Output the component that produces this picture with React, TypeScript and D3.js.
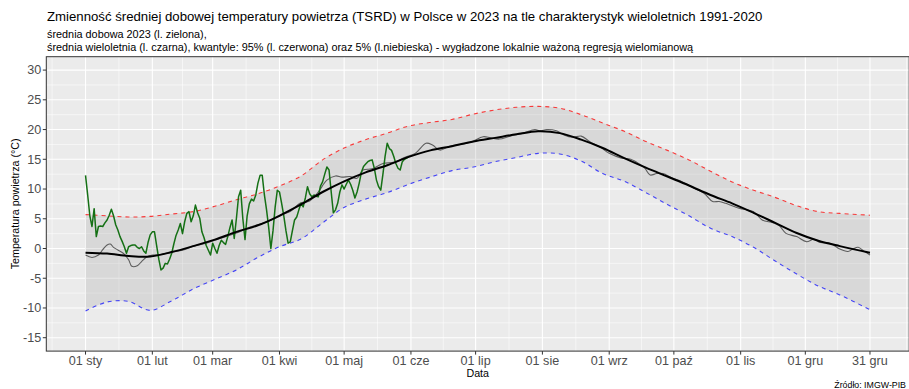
import React from "react";
import * as d3 from "d3";

const W = 909;
const H = 389;

// x axis: day of year 2023 (0 = 1 Jan)
const monthTicks = [0, 31, 59, 90, 120, 151, 181, 212, 243, 273, 304, 334, 364];
const monthLabels = ["01 sty", "01 lut", "01 mar", "01 kwi", "01 maj", "01 cze", "01 lip", "01 sie", "01 wrz", "01 paź", "01 lis", "01 gru", "31 gru"];
const yTicks = [-15, -10, -5, 0, 5, 10, 15, 20, 25, 30];

// smoothed climatology 1991-2020 (10-day grid)
const climDays = [0, 10, 20, 30, 40, 50, 60, 70, 80, 90, 100, 110, 120, 130, 140, 150, 160, 170, 180, 190, 200, 210, 220, 230, 240, 250, 260, 270, 280, 290, 300, 310, 320, 330, 340, 350, 364];
const q95 = [5.7, 5.5, 5.3, 5.4, 5.8, 6.2, 7.1, 8.2, 9.2, 10.5, 12.2, 14.9, 16.9, 18.3, 19.4, 20.6, 21.2, 21.7, 22.6, 23.3, 23.75, 23.9, 23.6, 22.5, 21.1, 19.7, 18.0, 16.5, 14.9, 13.0, 11.2, 9.8, 8.6, 7.2, 6.2, 5.9, 5.6];
const q05 = [-10.5, -9.0, -8.9, -10.4, -8.8, -6.8, -5.2, -3.6, -1.5, 0.3, 1.6, 4.3, 6.9, 8.3, 9.4, 10.8, 12.0, 13.1, 13.7, 14.6, 15.3, 16.0, 15.9, 14.7, 12.6, 11.3, 9.4, 7.4, 5.5, 3.4, 2.0, 0.2, -2.1, -4.3, -6.3, -7.8, -10.3];
const meanSmooth = [-0.7, -0.85, -1.25, -1.35, -0.6, 0.4, 1.5, 2.8, 3.9, 5.5, 7.4, 9.5, 11.3, 12.8, 14.0, 15.4, 16.5, 17.2, 18.0, 18.6, 19.2, 19.7, 19.4, 18.3, 16.9, 15.2, 13.6, 12.1, 10.6, 9.0, 7.6, 6.0, 4.3, 2.6, 1.3, 0.4, -0.7];

// multi-year daily mean (thin grey line)
const meanDays = [0, 3, 6, 8, 10, 11.5, 13, 15, 17.5, 20, 21.5, 24, 26, 28.5, 31, 35, 40, 45, 50, 55, 60, 65, 70, 75, 80, 85, 90, 95, 99.5, 104, 108, 112, 116, 119, 122.7, 126, 128.8, 133, 138, 143, 148, 153, 158, 161, 164.4, 169, 174, 179, 184.5, 188, 192, 197, 203, 208.5, 211, 214, 218.5, 222, 226, 230, 234, 239, 243, 248.7, 253, 257, 259.5, 262, 265, 268, 272, 277, 282, 287, 291, 294, 297, 300, 303.6, 307, 310, 314, 319, 322, 325, 330, 334.5, 338, 341, 344.5, 347, 350, 353.8, 356, 358.5, 361, 364];
const meanDaily = [-1.1, -1.5, -1.1, -0.2, 0.6, 0.75, 0.2, -0.25, -0.8, -1.9, -3.0, -2.9, -2.2, -1.4, -1.1, -1.0, -0.6, -0.3, 0.4, 0.8, 1.4, 2.0, 2.6, 3.4, 4.0, 4.6, 5.6, 6.2, 7.6, 8.0, 9.5, 11.5, 12.2, 12.0, 12.1, 11.8, 13.2, 13.4, 14.3, 14.5, 15.3, 16.0, 17.7, 17.4, 16.55, 17.2, 17.5, 17.9, 18.8, 18.6, 18.4, 18.9, 19.4, 20.0, 19.8, 20.0, 19.8, 19.1, 18.7, 18.9, 17.95, 17.0, 16.0, 15.2, 15.0, 14.2, 13.5, 12.35, 12.6, 12.6, 11.9, 11.2, 10.2, 9.3, 7.9, 7.9, 7.6, 7.2, 6.75, 6.5, 6.2, 4.8, 4.35, 3.8, 2.55, 2.0, 1.15, 1.55, 1.0, 1.0, 0.6, -0.1, -0.5, -0.1, 0.2, -0.4, -1.1];

// 2023 daily mean temperature, 1 Jan - 31 May
const t2023 = [
  12.3, 9.0, 5.5, 3.7, 6.7, 2.0, 3.7, 3.8, 3.7, 4.3,
  4.8, 5.6, 6.6, 5.5, 4.0, 3.1, 2.0, 1.2, 0.3, -0.8,
  0.3, 0.5, 0.6, 0.6, 0.2, 0.0, 0.3, -0.4, -0.8, 1.0,
  2.3, 2.8, 2.8, 0.5, -1.8, -3.6, -3.3, -2.5, -2.6, -1.8,
  -0.8, 0.8, 2.2, 3.1, 4.2, 2.5, 4.5, 5.9, 6.2, 4.5,
  5.5, 7.3, 6.0, 5.1, 2.8, 1.8, 0.5, -0.3, -1.1, 0.9,
  0.0, -0.8, 0.5, 1.4, 1.0, 0.7, 2.0, 3.5, 4.8, 1.7,
  5.0, 8.7, 9.8, 5.0, 1.5, 5.5, 7.5, 8.3, 8.0, 9.0,
  11.0, 12.3, 12.3, 9.0, 6.5, 3.5, 0.0, 3.0, 7.0, 9.8,
  9.5, 7.6, 5.5, 3.0, 0.9, 1.1, 3.0, 4.8, 5.3, 6.5,
  7.6, 7.0, 8.5, 10.4, 9.2, 8.7, 9.0, 8.8, 8.7, 10.5,
  11.2, 12.5, 13.7, 13.2, 9.5, 6.0, 6.5, 7.6, 9.5, 10.7,
  10.0, 10.8, 11.5, 10.8, 9.8, 8.5, 9.5, 11.0, 12.8, 13.8,
  14.2, 14.6, 14.8, 14.9, 13.5, 11.5, 10.4, 9.8, 12.5, 15.5,
  17.7, 16.8, 16.5, 15.5, 14.3, 13.5, 13.2, 14.6, 15.0, 15.2,
  15.4
];

const FONT = "'Liberation Sans', Arial, Helvetica, sans-serif";

export default function App() {
  const x = d3.scaleLinear().domain([-18.2, 382.2]).range([46.3, 909.2]);
  const y = d3.scaleLinear().domain([-17.25, 32.25]).range([351.1, 56.7]);

  const left = x(-18.2);
  const right = x(382.2);
  const top = y(32.25);
  const bottom = y(-17.25);

  const curve = d3.curveCatmullRom.alpha(0.5);
  const lineXY = d3
    .line<[number, number]>()
    .x((d) => x(d[0]))
    .y((d) => y(d[1]))
    .curve(curve);

  const redPts: [number, number][] = climDays.map((d, i) => [d, q95[i]]);
  const bluePts: [number, number][] = climDays.map((d, i) => [d, q05[i]]);
  const smoothPts: [number, number][] = climDays.map((d, i) => [d, meanSmooth[i]]);
  const dailyPts: [number, number][] = meanDays.map((d, i) => [d, meanDaily[i]]);
  const greenPts: [number, number][] = t2023.map((v, i) => [i, v]);

  const area = d3
    .area<[number, number, number]>()
    .x((d) => x(d[0]))
    .y0((d) => y(d[1]))
    .y1((d) => y(d[2]))
    .curve(curve);
  const ribbon = area(climDays.map((d, i) => [d, q05[i], q95[i]]));

  const greenLine = d3
    .line<[number, number]>()
    .x((d) => x(d[0]))
    .y((d) => y(d[1]))
    .curve(d3.curveLinear);

  const minorY = d3.range(-12.5, 30, 5);
  const minorX: number[] = [];
  minorX.push(-15.5);
  for (let i = 0; i < monthTicks.length - 1; i++) minorX.push((monthTicks[i] + monthTicks[i + 1]) / 2);
  minorX.push(381);

  return (
    <svg
      width={W}
      height={H}
      style={{ position: "absolute", left: 0, top: 0, background: "#fff" }}
      fontFamily={FONT}
    >
      <rect x={0} y={0} width={W} height={H} fill="#fff" />
      {/* titles */}
      <text x={47} y={21} fontSize={13.2} fill="#000">
        Zmienność średniej dobowej temperatury powietrza (TSRD) w Polsce w 2023 na tle charakterystyk wieloletnich 1991-2020
      </text>
      <text x={47} y={38} fontSize={10.85} fill="#000">
        średnia dobowa 2023 (l. zielona),
      </text>
      <text x={47} y={50.5} fontSize={10.85} fill="#000">
        średnia wieloletnia (l. czarna), kwantyle: 95% (l. czerwona) oraz 5% (l.niebieska) - wygładzone lokalnie ważoną regresją wielomianową
      </text>

      {/* panel */}
      <rect x={left} y={top} width={right - left} height={bottom - top} fill="#ebebeb" />
      <g>
        {minorY.map((v) => (
          <line key={"my" + v} x1={left} x2={right} y1={y(v)} y2={y(v)} stroke="#fff" strokeWidth={0.55} />
        ))}
        {minorX.map((d) => (
          <line key={"mx" + d} x1={x(d)} x2={x(d)} y1={top} y2={bottom} stroke="#fff" strokeWidth={0.55} />
        ))}
        {yTicks.map((v) => (
          <line key={"gy" + v} x1={left} x2={right} y1={y(v)} y2={y(v)} stroke="#fff" strokeWidth={1.1} />
        ))}
        {monthTicks.map((d) => (
          <line key={"gx" + d} x1={x(d)} x2={x(d)} y1={top} y2={bottom} stroke="#fff" strokeWidth={1.1} />
        ))}
      </g>

      {/* ribbon */}
      <path d={ribbon || ""} fill="#8c8c8c" fillOpacity={0.2} stroke="none" />

      {/* quantiles */}
      <path d={lineXY(redPts) || ""} fill="none" stroke="#ff0000" strokeOpacity={0.75} strokeWidth={1.1} strokeDasharray="4,4" />
      <path d={lineXY(bluePts) || ""} fill="none" stroke="#0000ff" strokeOpacity={0.7} strokeWidth={1.1} strokeDasharray="4,4" />

      {/* multi-year daily mean */}
      <path d={lineXY(dailyPts) || ""} fill="none" stroke="#333" strokeOpacity={0.75} strokeWidth={1.1} />
      {/* 2023 */}
      <path d={greenLine(greenPts) || ""} fill="none" stroke="#157015" strokeWidth={1.5} strokeLinejoin="round" />
      {/* smoothed mean */}
      <path d={lineXY(smoothPts) || ""} fill="none" stroke="#000" strokeWidth={2} />

      {/* panel border */}
      <rect x={left} y={top} width={right - left} height={bottom - top} fill="none" stroke="#333" strokeWidth={1} />

      {/* y axis */}
      {yTicks.map((v) => (
        <g key={"ty" + v}>
          <line x1={left - 3.5} x2={left} y1={y(v)} y2={y(v)} stroke="#333" strokeWidth={1} />
          <text x={left - 5} y={y(v)} dy="0.35em" textAnchor="end" fontSize={12.6} fill="#4d4d4d">
            {v}
          </text>
        </g>
      ))}
      {/* x axis */}
      {monthTicks.map((d, i) => (
        <g key={"tx" + d}>
          <line x1={x(d)} x2={x(d)} y1={bottom} y2={bottom + 3.5} stroke="#333" strokeWidth={1} />
          <text x={x(d)} y={bottom + 14} textAnchor="middle" fontSize={12.6} fill="#4d4d4d">
            {monthLabels[i]}
          </text>
        </g>
      ))}

      <text x={(left + right) / 2} y={377} textAnchor="middle" fontSize={10.7} fill="#000">
        Data
      </text>
      <text
        transform={`translate(${19},${(top + bottom) / 2}) rotate(-90)`}
        textAnchor="middle"
        fontSize={10.7}
        fill="#000"
      >
        Temperatura powietrza (°C)
      </text>
      <text x={906} y={387.5} textAnchor="end" fontSize={8.8} fill="#000">
        Źródło: IMGW-PIB
      </text>
    </svg>
  );
}
